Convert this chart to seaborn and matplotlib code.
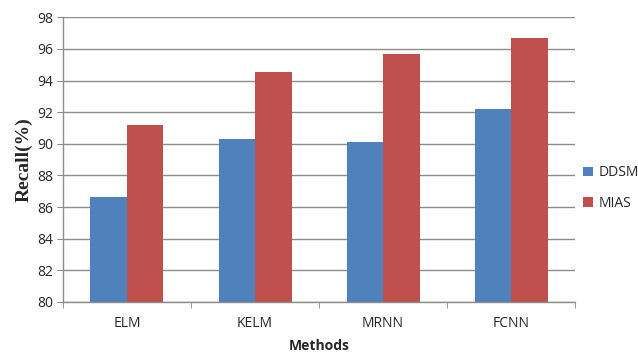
import matplotlib
matplotlib.use("Agg")
import matplotlib.pyplot as plt
import seaborn as sns
import pandas as pd
from matplotlib.ticker import FixedLocator

# values
methods = ["ELM", "KELM", "MRNN", "FCNN"]
ddsm = [86.65, 90.33, 90.12, 92.23]
mias = [91.22, 94.56, 95.70, 96.71]

df = pd.DataFrame({
    "Methods": methods * 2,
    "Recall": ddsm + mias,
    "Dataset": ["DDSM"] * 4 + ["MIAS"] * 4,
})

sns.set_style("white")
plt.rcParams["font.family"] = ["Open Sans", "DejaVu Sans"]

fig = plt.figure(figsize=(6.38, 3.53), dpi=100)
ax = fig.add_axes([0.0987, 0.1445, 0.8027, 0.8065])

sns.barplot(data=df, x="Methods", y="Recall", hue="Dataset",
            palette=["#4F81BD", "#C0504D"], saturation=1, width=0.57, ax=ax,
            edgecolor="none", linewidth=0)

ax.set_ylim(80, 98)
ax.set_yticks(range(80, 99, 2))
ax.set_xlim(-0.5, 3.5)
ax.yaxis.grid(True, color="#8c8c8c", linewidth=1)
ax.set_axisbelow(True)

for s in ["top", "right"]:
    ax.spines[s].set_visible(False)
for s in ["left", "bottom"]:
    ax.spines[s].set_color("#8c8c8c")
    ax.spines[s].set_linewidth(1)

ax.tick_params(axis="y", labelsize=10, length=4, color="#8c8c8c", direction="out", pad=3, left=True)
ax.tick_params(axis="x", labelsize=10, length=0, pad=10)
ax.xaxis.set_minor_locator(FixedLocator([-0.5, 0.5, 1.5, 2.5, 3.5]))
ax.tick_params(axis="x", which="minor", length=4, color="#8c8c8c", direction="out", bottom=True)

ax.set_ylabel("Recall(%)", family="Liberation Serif", fontweight="bold", fontsize=14, labelpad=3)
ax.set_xlabel("Methods", fontweight="bold", fontsize=10, labelpad=6)

ax.legend(loc="center left", bbox_to_anchor=(1.0, 0.40), frameon=False,
          fontsize=10, handlelength=0.7, handleheight=0.7, handletextpad=0.4,
          labelspacing=1.1, borderpad=0, borderaxespad=0.6)

fig.savefig("out.png", dpi=100)
